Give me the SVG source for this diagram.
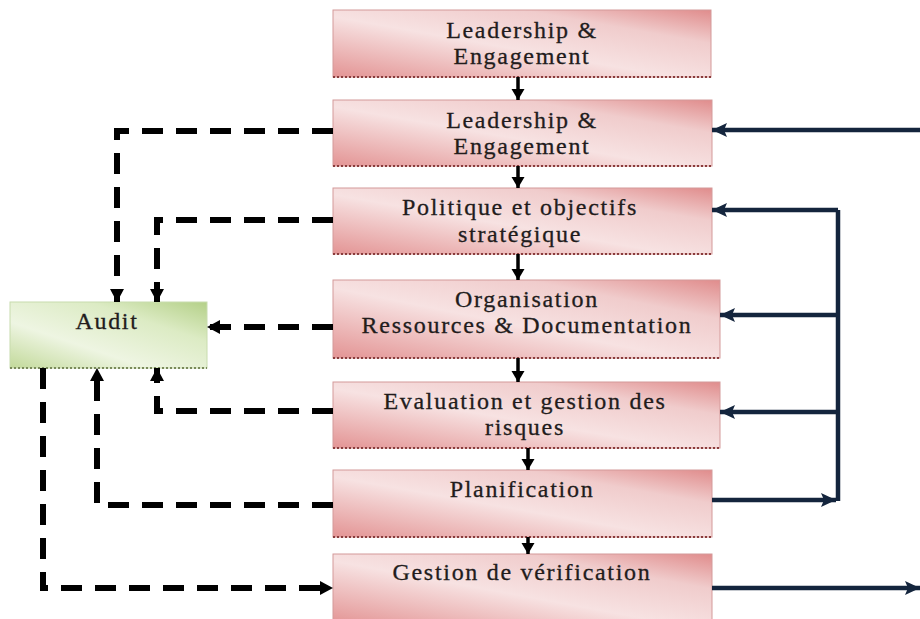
<svg xmlns="http://www.w3.org/2000/svg" width="920" height="619" viewBox="0 0 920 619">
<defs>
<linearGradient id="pink" x1="0" y1="1" x2="1" y2="0">
<stop offset="0" stop-color="#e39494"/>
<stop offset="0.45" stop-color="#f7e2e2"/>
<stop offset="0.75" stop-color="#f0cccc"/>
<stop offset="1" stop-color="#e08c8c"/>
</linearGradient>
<linearGradient id="green" x1="0" y1="1" x2="1" y2="0">
<stop offset="0" stop-color="#c2d99a"/>
<stop offset="0.35" stop-color="#eef5e2"/>
<stop offset="0.7" stop-color="#dcebc4"/>
<stop offset="1" stop-color="#b4d088"/>
</linearGradient>
<marker id="ak" markerUnits="userSpaceOnUse" markerWidth="16" markerHeight="16" refX="13" refY="7" orient="auto">
<path d="M0,0 L13,7 L0,14 Z" fill="#000"/>
</marker>
<marker id="as" markerUnits="userSpaceOnUse" markerWidth="14" markerHeight="14" refX="11" refY="6.5" orient="auto">
<path d="M0,0 L11,6.5 L0,13 Z" fill="#000"/>
</marker>
<marker id="an" markerUnits="userSpaceOnUse" markerWidth="18" markerHeight="16" refX="15" refY="7" orient="auto">
<path d="M0,0 L15,7 L0,14 L3,7 Z" fill="#14253d"/>
</marker>
</defs>
<style>
.box{fill:url(#pink);stroke:#d49a9a;stroke-width:1}
.audit{fill:url(#green);stroke:#c8dcae;stroke-width:1}
.dot{stroke:#8a3c3c;stroke-width:2;stroke-dasharray:2 2}
.dotg{stroke:#7a8a5a;stroke-width:2;stroke-dasharray:2 2}
text{font-family:"Liberation Serif","Times New Roman",serif;font-size:24px;fill:#221c1c;stroke:#221c1c;stroke-width:0.3;text-anchor:middle;letter-spacing:1.7px}
.dash{fill:none;stroke:#000;stroke-width:6;stroke-dasharray:21 13}
.down{fill:none;stroke:#000;stroke-width:3.5}
.navy{fill:none;stroke:#14253d;stroke-width:4.5}
</style>
<rect width="920" height="619" fill="#fff"/>

<g id="n1">
<rect class="box" x="333" y="10" width="378" height="67"/>
<line class="dot" x1="333" y1="77" x2="711" y2="77"/>
<text x="522" y="38">Leadership &amp;</text>
<text x="522" y="64">Engagement</text>
</g>
<g id="n2">
<rect class="box" x="333" y="100" width="379" height="66"/>
<line class="dot" x1="333" y1="166" x2="712" y2="166"/>
<text x="522" y="128">Leadership &amp;</text>
<text x="522" y="154">Engagement</text>
</g>
<g id="n3">
<rect class="box" x="333" y="188" width="379" height="66"/>
<line class="dot" x1="333" y1="254" x2="712" y2="254"/>
<text x="520" y="215">Politique et objectifs</text>
<text x="520" y="242">stratégique</text>
</g>
<g id="n4">
<rect class="box" x="333" y="280" width="387" height="78"/>
<line class="dot" x1="333" y1="358" x2="720" y2="358"/>
<text x="527" y="307">Organisation</text>
<text x="527" y="333">Ressources &amp; Documentation</text>
</g>
<g id="n5">
<rect class="box" x="333" y="382" width="387" height="66"/>
<line class="dot" x1="333" y1="448" x2="720" y2="448"/>
<text x="525" y="409">Evaluation et gestion  des</text>
<text x="525" y="435">risques</text>
</g>
<g id="n6">
<rect class="box" x="333" y="470" width="379" height="67"/>
<line class="dot" x1="333" y1="537" x2="712" y2="537"/>
<text x="522" y="497">Planification</text>
</g>
<g id="n7">
<rect class="box" x="333" y="554" width="379" height="70"/>
<text x="522" y="580">Gestion de vérification</text>
</g>
<g id="audit">
<rect class="audit" x="10" y="302" width="197" height="66"/>
<line class="dotg" x1="10" y1="368" x2="207" y2="368"/>
<text x="107" y="329">Audit</text>
</g>

<g id="connectors">
<line class="down" x1="518" y1="77" x2="518" y2="100" marker-end="url(#as)"/>
<line class="down" x1="518" y1="166" x2="518" y2="188" marker-end="url(#as)"/>
<line class="down" x1="518" y1="254" x2="518" y2="280" marker-end="url(#as)"/>
<line class="down" x1="518" y1="358" x2="518" y2="382" marker-end="url(#as)"/>
<line class="down" x1="528" y1="448" x2="528" y2="470" marker-end="url(#as)"/>
<line class="down" x1="528" y1="537" x2="528" y2="554" marker-end="url(#as)"/>

<path class="dash" d="M333,131 H117 V302" marker-end="url(#ak)"/>
<path class="dash" d="M333,220 H157 V302" marker-end="url(#ak)"/>
<path class="dash" d="M333,327 H207" marker-end="url(#ak)"/>
<path class="dash" d="M333,411 H157 V368" marker-end="url(#ak)"/>
<path class="dash" d="M333,505 H97 V368" marker-end="url(#ak)"/>
<path class="dash" d="M43,368 V588 H333" marker-end="url(#ak)"/>

<line class="navy" x1="920" y1="130" x2="712" y2="130" marker-end="url(#an)"/>
<line class="navy" x1="838" y1="210" x2="838" y2="501" stroke-width="4"/>
<line class="navy" x1="838" y1="210" x2="712" y2="210" marker-end="url(#an)"/>
<line class="navy" x1="838" y1="315" x2="720" y2="315" marker-end="url(#an)"/>
<line class="navy" x1="838" y1="412" x2="720" y2="412" marker-end="url(#an)"/>
<line class="navy" x1="712" y1="500" x2="836" y2="500" marker-end="url(#an)"/>
<line class="navy" x1="712" y1="588" x2="920" y2="588" marker-end="url(#an)"/>
</g>
</svg>
